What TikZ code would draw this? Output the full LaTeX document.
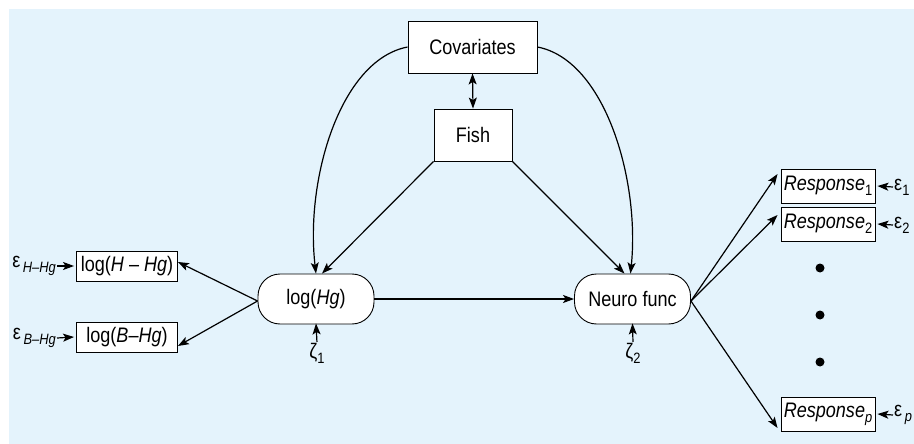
\documentclass[tikz,border=0pt]{standalone}
\usepackage{fontspec}
\setmainfont{Liberation Sans}[FakeStretch=0.86]
\usetikzlibrary{arrows.meta}
\definecolor{bgblue}{RGB}{228,243,252}
\newcommand{\lowsub}[1]{\raisebox{-0.45ex}{\fontsize{15}{17}\selectfont #1}}
\tikzset{
  x=1pt, y=-1pt,
  txt/.style={font=\fontsize{21}{25}\selectfont, inner sep=0pt},
  box/.style={txt, draw, fill=white, line width=0.9pt},
  pill/.style={box, rounded corners=22pt, minimum width=116pt, minimum height=50pt},
  resp/.style={box, minimum width=94pt, minimum height=34pt},
  lbox/.style={box, minimum width=101pt, minimum height=30pt},
  tip/.tip={Stealth[length=11pt,width=8pt,inset=2.5pt]},
  arr/.style={-tip, line width=1.2pt},
  darr/.style={tip-tip, line width=1.2pt},
  dot/.style={circle, fill=black, inner sep=0pt, minimum size=9pt},
}
\begin{document}
\begin{tikzpicture}
\useasboundingbox (0,0) rectangle (914,444);
\fill[bgblue] (9,9) rectangle (914,444);

% nodes
\node[box, minimum width=129pt, minimum height=52pt] (cov) at (472.5,47) {Covariates};
\node[box, minimum width=78pt, minimum height=52pt] (fish) at (473,135) {Fish};
\node[pill] (lhg) at (316,299) {log(\textit{Hg})};
\node[pill] (nf) at (632.5,299) {Neuro func};
\node[lbox] (lhh) at (127,266) {log(\textit{H} -- \textit{Hg})};
\node[lbox] (lbh) at (127,337) {log(\textit{B}--\textit{Hg})};
\node[resp] (r1) at (828,186) {\textit{Response}\lowsub{1}};
\node[resp] (r2) at (828,224) {\textit{Response}\lowsub{2}};
\node[resp] (rp) at (828,414) {\textit{Response}\lowsub{\textit{p}}};
\node[dot] (d1) at (820,268) {};
\node[dot] (d2) at (820,315) {};
\node[dot] (d3) at (820,362) {};

% error terms
\node[txt, anchor=east] (eh) at (56,266) {ε\lowsub{\,\textit{H--Hg}}};
\node[txt, anchor=east] (eb) at (56,338) {ε\lowsub{\,\textit{B--Hg}}};
\node[txt, anchor=west] (e1) at (894,187) {ε\lowsub{1}};
\node[txt, anchor=west] (e2) at (894,225) {ε\lowsub{2}};
\node[txt, anchor=west] (ep) at (894,415) {ε\lowsub{\,\textit{p}}};
\node[txt, anchor=north] (z1) at (317,343) {ζ\lowsub{1}};
\node[txt, anchor=north] (z2) at (633,343) {ζ\lowsub{2}};

% connectors
\draw[darr] (cov.south) -- (fish.north);
\draw[arr] (cov.west) .. controls (340,60) and (305,180) .. (lhg.north);
\draw[arr] (cov.east) .. controls (605,60) and (640,180) .. ([xshift=-2pt]nf.north);
\draw[arr] (fish.south west) -- ([xshift=6pt]lhg.north);
\draw[arr] (fish.south east) -- ([xshift=-8pt]nf.north);
\draw[arr] (lhg.east) -- (nf.west);
\draw[arr] ([yshift=-2pt]lhg.west) -- ([yshift=4pt]lhh.east);
\draw[arr] ([yshift=-2pt]lhg.west) -- ([yshift=-9pt]lbh.east);
\draw[arr] ([yshift=-2pt]nf.east) -- ([xshift=-3pt,yshift=12pt]r1.west);
\draw[arr] ([yshift=-2pt]nf.east) -- ([xshift=-3pt,yshift=9pt]r2.west);
\draw[arr] ([yshift=-2pt]nf.east) -- ([xshift=-3pt,yshift=-14pt]rp.west);
\draw[arr] ([xshift=1pt]eh.east) -- ([xshift=-2pt]lhh.west);
\draw[arr] ([xshift=1pt]eb.east) -- ([xshift=-2pt]lbh.west);
\draw[arr] ([xshift=-1pt]e1.west) -- ([xshift=2pt]r1.east);
\draw[arr] ([xshift=-1pt]e2.west) -- ([xshift=2pt]r2.east);
\draw[arr] ([xshift=-1pt]ep.west) -- ([xshift=2pt]rp.east);
\draw[arr, shorten <=1pt] (z1.north) -- ([yshift=1pt]lhg.south);
\draw[arr, shorten <=1pt] (z2.north) -- ([yshift=1pt]nf.south);
\end{tikzpicture}
\end{document}
